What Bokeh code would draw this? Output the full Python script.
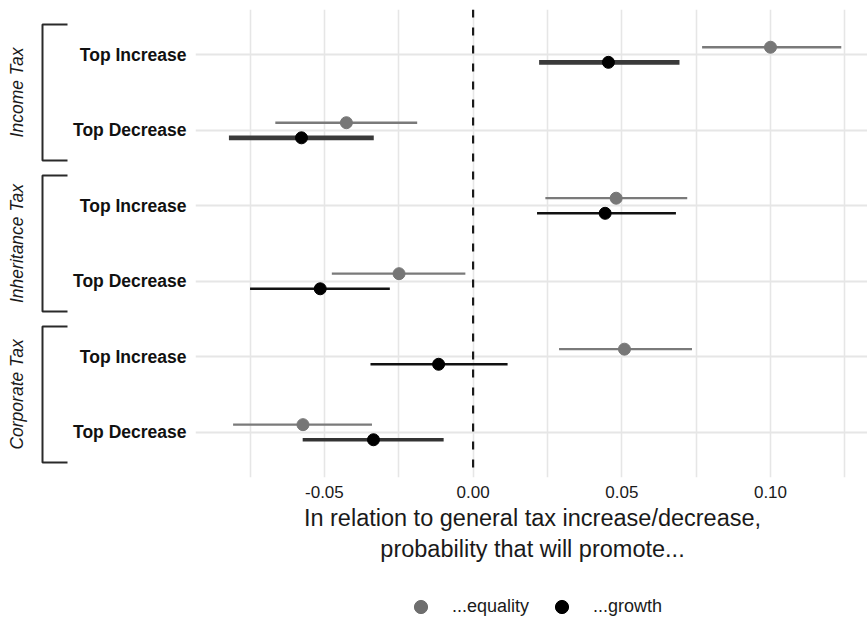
import math
from bokeh.plotting import figure
from bokeh.models import (Range1d, FixedTicker, Span, Legend, LegendItem,
                          ColumnDataSource, NumeralTickFormatter)
from bokeh.layouts import row, column
from bokeh.embed import file_html
from bokeh.resources import INLINE

# ---------------- data ----------------
groups = ["Income Tax", "Inheritance Tax", "Corporate Tax"]
rows = ["Top Increase", "Top Decrease", "Top Increase", "Top Decrease", "Top Increase", "Top Decrease"]
series = ["...equality", "...growth"]

equality_est = [0.1000, -0.0426, 0.0481, -0.0249, 0.0509, -0.0572]
equality_lo = [0.0770, -0.0665, 0.0243, -0.0475, 0.0289, -0.0807]
equality_hi = [0.1238, -0.0188, 0.0720, -0.0026, 0.0736, -0.0340]

growth_est = [0.0455, -0.0577, 0.0444, -0.0514, -0.0116, -0.0335]
growth_lo = [0.0222, -0.0821, 0.0215, -0.0750, -0.0345, -0.0573]
growth_hi = [0.0694, -0.0334, 0.0682, -0.0280, 0.0116, -0.0099]

x_major = [-0.05, 0.0, 0.05, 0.10]
x_minor = [-0.075, -0.025, 0.025, 0.075, 0.125]

# styles (kept separate from values)
growth_widths = [4.8, 4.8, 2.4, 2.4, 2.4, 3.4]
growth_colors = ["#3a3a3a", "#3a3a3a", "#111111", "#111111", "#111111", "#333333"]
EQ_COLOR = "#777777"
GR_COLOR = "#000000"

FONT = "Liberation Sans"
FRAME_H = 468
TOP = 9
BOTTOM = 100
LEFT_W = 70
MAIN_LEFT = 123
FRAME_W = 867 - LEFT_W - MAIN_LEFT
LEG_H = 40

pos = list(range(1, len(rows) + 1))
yr = Range1d(len(rows) + 0.6, 0.4)

# ---------------- main figure ----------------
p = figure(frame_width=FRAME_W, frame_height=FRAME_H,
           x_range=Range1d(-0.09334, 0.13329), y_range=yr,
           toolbar_location=None, output_backend="svg",
           min_border_left=MAIN_LEFT, min_border_right=0, min_border_top=TOP,
           min_border_bottom=BOTTOM)
p.outline_line_color = None
p.background_fill_color = "white"

p.xaxis.ticker = FixedTicker(ticks=x_major, minor_ticks=x_minor)
p.xaxis.formatter = NumeralTickFormatter(format="0.00")
p.yaxis.ticker = FixedTicker(ticks=pos, minor_ticks=[])
p.yaxis.major_label_overrides = {i: r for i, r in zip(pos, rows)}

for ax in (p.xaxis, p.yaxis):
    ax.axis_line_color = None
    ax.major_tick_line_color = None
    ax.minor_tick_line_color = None
    ax.major_tick_out = 0
    ax.minor_tick_out = 0
    ax.major_tick_in = 0

p.yaxis.major_label_text_font = FONT
p.yaxis.major_label_text_font_style = "bold"
p.yaxis.major_label_text_font_size = "17.5px"
p.yaxis.major_label_text_color = "#111111"
p.yaxis.major_label_standoff = 9

p.xaxis.major_label_text_font = FONT
p.xaxis.major_label_text_font_size = "17px"
p.xaxis.major_label_text_color = "#1a1a1a"
p.xaxis.major_label_standoff = 8
p.xaxis.axis_label = "In relation to general tax increase/decrease,\nprobability that will promote..."
p.xaxis.axis_label_text_font = FONT
p.xaxis.axis_label_text_font_style = "normal"
p.xaxis.axis_label_text_font_size = "23.5px"
p.xaxis.axis_label_text_color = "#1a1a1a"
p.xaxis.axis_label_standoff = 4

p.xgrid.grid_line_color = "#e6e6e6"
p.xgrid.grid_line_width = 1.6
p.xgrid.minor_grid_line_color = "#e6e6e6"
p.xgrid.minor_grid_line_width = 1.6
p.ygrid.grid_line_color = "#e6e6e6"
p.ygrid.grid_line_width = 1.8

zero = Span(location=0, dimension="height", line_color="#1a1a1a", line_width=2.2,
            line_dash="8 10", level="underlay")
p.add_layout(zero)

off = 0.1
eq_src = ColumnDataSource(dict(y=[v - off for v in pos], est=equality_est,
                               lo=equality_lo, hi=equality_hi))
gr_src = ColumnDataSource(dict(y=[v + off for v in pos], est=growth_est,
                               lo=growth_lo, hi=growth_hi, w=growth_widths, c=growth_colors))

p.segment(x0="lo", y0="y", x1="hi", y1="y", source=eq_src, line_color="#7a7a7a", line_width=2.3)
p.scatter(x="est", y="y", source=eq_src, size=12, fill_color=EQ_COLOR,
          line_color=EQ_COLOR, marker="circle")
p.segment(x0="lo", y0="y", x1="hi", y1="y", source=gr_src, line_color="c", line_width="w")
p.scatter(x="est", y="y", source=gr_src, size=12, fill_color=GR_COLOR,
          line_color=GR_COLOR, marker="circle")

# ---------------- left bracket figure ----------------
q = figure(frame_width=LEFT_W, frame_height=FRAME_H, x_range=Range1d(0, LEFT_W), y_range=yr,
           toolbar_location=None, output_backend="svg", x_axis_type=None, y_axis_type=None,
           min_border_left=0, min_border_right=0, min_border_top=TOP, min_border_bottom=BOTTOM)
q.outline_line_color = None
q.grid.visible = False

centers = [pos[2 * i] + 0.5 for i in range(len(groups))]
bx, bx2, lx = 42, 67, 16
xs = [[bx2, bx, bx, bx2] for c in centers]
ys = [[c - 0.9, c - 0.9, c + 0.9, c + 0.9] for c in centers]
q.multi_line(xs=xs, ys=ys, line_color="#2a2a2a", line_width=2)
q.text(x=[lx] * len(groups), y=centers, text=groups, angle=math.pi / 2,
       text_align="center", text_baseline="middle", text_font_size="17.5px",
       text_font_style="italic", text_color="#1a1a1a",
       text_font={"value": FONT})

# ---------------- legend strip ----------------
lf = figure(frame_width=867, frame_height=LEG_H, x_range=Range1d(0, 1), y_range=Range1d(0, 1),
            toolbar_location=None, output_backend="svg", x_axis_type=None, y_axis_type=None,
            min_border=0)
lf.outline_line_color = None
lf.grid.visible = False
# off-frame placeholder points so the legend has glyphs to draw
r_eq = lf.scatter(x=[-5], y=[-5], size=13, fill_color="#6e6e6e", line_color="#6e6e6e", marker="circle")
r_gr = lf.scatter(x=[-5], y=[-5], size=13, fill_color=GR_COLOR, line_color=GR_COLOR, marker="circle")
legend = Legend(items=[LegendItem(label=series[0], renderers=[r_eq]),
                       LegendItem(label=series[1], renderers=[r_gr])],
                orientation="horizontal", location=(404, -6))
legend.label_text_font = FONT
legend.label_text_font_size = "18px"
legend.label_text_color = "#1a1a1a"
legend.border_line_color = None
legend.background_fill_alpha = 0
legend.padding = 0
legend.margin = 0
legend.spacing = 16
legend.label_standoff = 15
legend.glyph_width = 33
legend.glyph_height = 33
lf.add_layout(legend, "center")

layout = column(row(q, p), lf)
open("out.html", "w").write(file_html(layout, INLINE))
